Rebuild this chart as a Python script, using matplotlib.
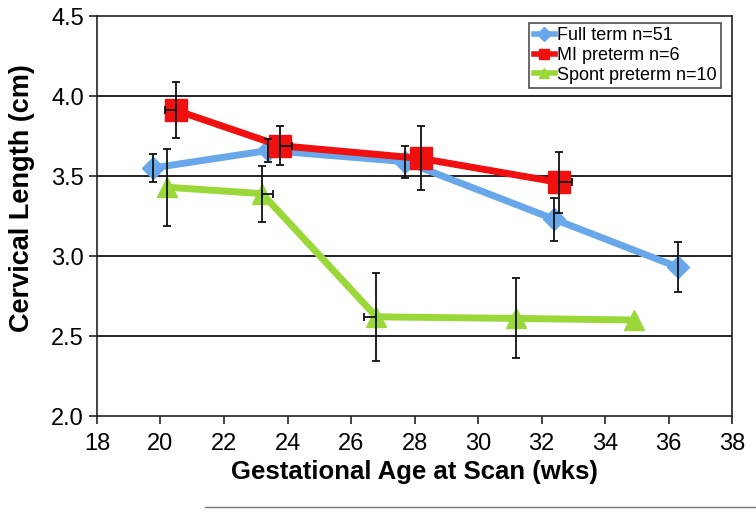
import matplotlib
matplotlib.use('Agg')
import matplotlib.pyplot as plt
from matplotlib.lines import Line2D
import numpy as np

plt.rcParams['font.family'] = ['Liberation Sans', 'DejaVu Sans']

# full term
ft_x = [19.75, 23.4, 27.7, 32.4, 36.3]
ft_y = [3.55, 3.66, 3.59, 3.23, 2.93]
ft_yerr = [0.09, 0.07, 0.10, 0.135, 0.155]
ft_xlo = [0.0, 0.0, 0.0, 0.0, 0.0]
ft_xhi = [0.0, 0.0, 0.0, 0.0, 0.0]

# MI preterm
mi_x = [20.5, 23.75, 28.2, 32.55]
mi_y = [3.91, 3.69, 3.61, 3.46]
mi_yerr = [0.175, 0.12, 0.20, 0.19]
mi_xlo = [0.35, 0.0, 0.0, 0.0]
mi_xhi = [0.0, 0.4, 0.0, 0.4]

# spontaneous preterm
sp_x = [20.2, 23.2, 26.8, 31.2, 34.9]
sp_y = [3.43, 3.39, 2.62, 2.61, 2.60]
sp_yerr = [0.24, 0.175, 0.275, 0.25, 0.0]
sp_xlo = [0.0, 0.0, 0.4, 0.0, 0.0]
sp_xhi = [0.0, 0.35, 0.0, 0.0, 0.0]

labels = ['Full term n=51', 'MI preterm n=6', 'Spont preterm n=10']
colors = ['#68a8ea', '#f01010', '#9ad83a']

fig = plt.figure(figsize=(7.56, 5.15), dpi=100)
ax = fig.add_axes([0.1283, 0.1922, 0.8400, 0.7767])

for y in [2.5, 3.0, 3.5, 4.0]:
    ax.axhline(y, color='#222222', lw=1.4, zorder=1)

series = [
    (ft_x, ft_y, ft_yerr, ft_xlo, ft_xhi, 'D', 11, colors[0]),
    (mi_x, mi_y, mi_yerr, mi_xlo, mi_xhi, 's', 16, colors[1]),
    (sp_x, sp_y, sp_yerr, sp_xlo, sp_xhi, '^', 15, colors[2]),
]
ebar = dict(fmt='none', ecolor='#111111', elinewidth=1.3, capsize=3, capthick=1.3, zorder=6)
handles = []
for i, (x, y, ye, xlo, xhi, m, ms, c) in enumerate(series):
    x = np.array(x); y = np.array(y); ye = np.array(ye)
    xlo = np.array(xlo); xhi = np.array(xhi)
    ax.plot(x, y, color=c, lw=5, marker=m, ms=ms, mec=c, zorder=3 + i)
    k = ye > 0
    ax.errorbar(x[k], y[k], yerr=ye[k], **ebar)
    k = (xlo + xhi) > 0
    if k.any():
        ax.errorbar(x[k], y[k], xerr=[xlo[k], xhi[k]], **ebar)
    handles.append(Line2D([0], [0], color=c, lw=4, marker=m, ms=7, mec=c))

ax.set_xlim(18, 38)
ax.set_ylim(2.0, 4.5)
ax.set_xticks(np.arange(18, 39, 2))
ax.set_yticks(np.arange(2.0, 4.51, 0.5))
ax.set_yticklabels(['%.1f' % v for v in np.arange(2.0, 4.51, 0.5)])
ax.tick_params(direction='out', length=6, width=1.2, labelsize=17, color='#222222')
ax.tick_params(axis='x', pad=6)
for s in ax.spines.values():
    s.set_color('#222222')
    s.set_linewidth(1.2)

ax.set_xlabel('Gestational Age at Scan (wks)', fontsize=18.5, fontweight='bold', labelpad=4)
ax.set_ylabel('Cervical Length (cm)', fontsize=19.5, fontweight='bold')
ax.yaxis.set_label_coords(-0.098, 0.545)

leg = ax.legend(handles, labels, loc='upper right', bbox_to_anchor=(0.983, 0.983),
                fontsize=13, frameon=True, fancybox=False, handlelength=1.2,
                handletextpad=0.1, borderpad=0.25, labelspacing=0.15, borderaxespad=0)
leg.get_frame().set_edgecolor('#222222')
leg.get_frame().set_linewidth(1.2)

fig.add_artist(Line2D([205 / 756, 1.0], [1 - 507 / 515] * 2, color='#777777', lw=1))

fig.savefig('out.png', dpi=100)
